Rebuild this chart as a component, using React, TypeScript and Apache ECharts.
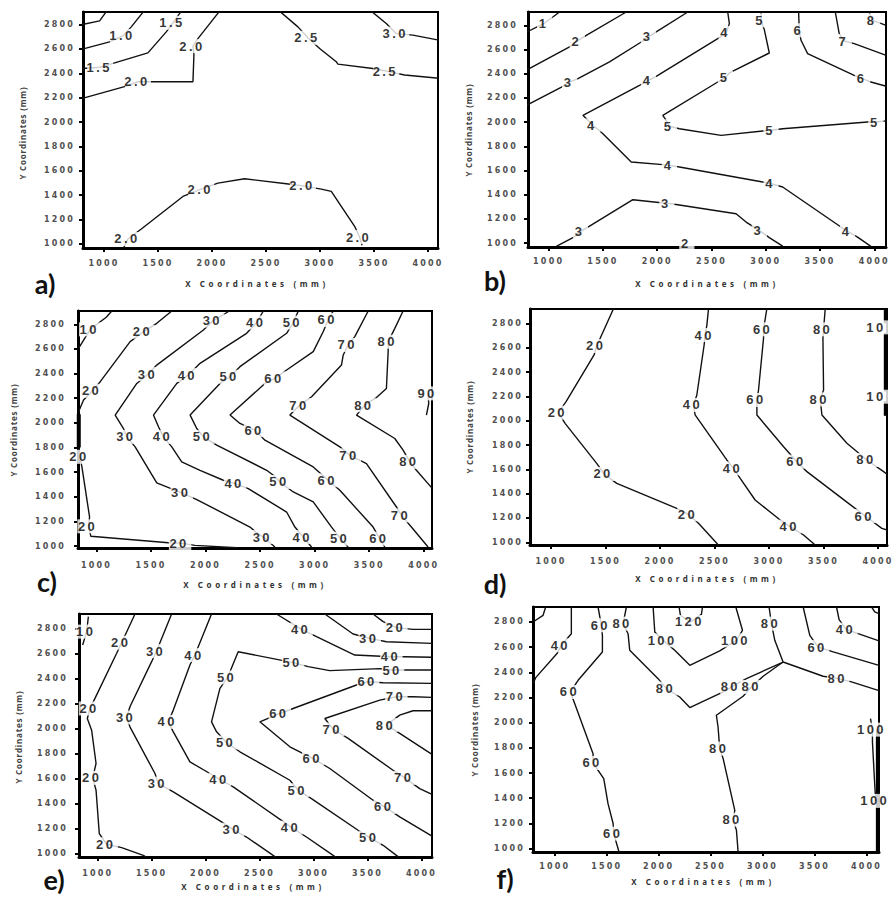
import React, { useEffect, useRef } from 'react';
import * as echarts from 'echarts';

type P = [number, number];
type L = [number, number, string];

const xTickValues = [1000, 1500, 2000, 2500, 3000, 3500, 4000];
const yTickValues = [1000, 1200, 1400, 1600, 1800, 2000, 2200, 2400, 2600, 2800];
const panelLetters = ['a)', 'b)', 'c)', 'd)', 'e)', 'f)'];
const xTitle = 'X Coordinates (mm)';
const yTitle = 'Y Coordinates (mm)';

// ---------- panel a ----------
const aLines: P[][] = [
  [[800, 2800], [960, 2830], [1025, 2910]],
  [[800, 2598], [1052, 2658], [1176, 2707], [1253, 2781], [1370, 2910]],
  [[800, 2440], [965, 2450], [1099, 2486], [1407, 2568], [1577, 2740], [1639, 2814], [1716, 2910]],
  [[800, 2195], [1207, 2295], [1315, 2331], [1484, 2331], [1824, 2331], [1833, 2549], [1824, 2623], [1870, 2685], [2071, 2910]],
  [[2626, 2910], [2796, 2781], [2889, 2691], [2997, 2604], [3151, 2495], [3166, 2475], [3490, 2440], [3614, 2418], [3784, 2386], [4100, 2360]],
  [[3475, 2910], [3614, 2808], [3706, 2726], [3861, 2713], [4100, 2672]],
  [[1180, 965], [1222, 1041], [1346, 1123], [1731, 1390], [1901, 1450], [2055, 1499], [2302, 1535], [2688, 1494], [2842, 1477], [3012, 1450], [3105, 1431], [3321, 1145], [3367, 1057], [3390, 990]],
];
const aLabels: L[] = [
  [1176, 2707, '1.0'], [965, 2450, '1.5'], [1639, 2814, '1.5'], [1315, 2331, '2.0'], [1824, 2623, '2.0'],
  [2889, 2691, '2.5'], [3614, 2418, '2.5'], [3706, 2726, '3.0'], [1222, 1041, '2.0'], [1901, 1450, '2.0'],
  [2842, 1477, '2.0'], [3367, 1057, '2.0'],
];

// ---------- panel b ----------
const bLines: P[][] = [
  [[800, 2745], [963, 2819], [1101, 2910]],
  [[800, 2432], [1193, 2621], [1264, 2670], [1347, 2717], [1715, 2910]],
  [[800, 2140], [1132, 2295], [1193, 2331], [1270, 2359], [1561, 2497], [1868, 2670], [1920, 2704], [1991, 2745], [2282, 2910]],
  [[2650, 2910], [2665, 2814], [2635, 2737], [2573, 2698], [1991, 2378], [1920, 2345], [1837, 2304], [1316, 2056], [1408, 1973], [1500, 1904], [1761, 1670], [2052, 1648], [2113, 1642], [2205, 1628], [2972, 1504], [3049, 1490], [3156, 1463], [3693, 1132], [3754, 1096], [3846, 1049], [3969, 972]],
  [[2957, 2910], [2957, 2841], [2987, 2764], [3033, 2571], [2665, 2406], [2629, 2367], [2543, 2323], [2052, 2056], [2075, 2025], [2113, 1965], [2205, 1945], [2589, 1890], [2972, 1926], [3049, 1932], [3156, 1945], [3938, 2000], [4015, 2000], [4110, 2010]],
  [[3303, 2910], [3309, 2759], [3325, 2676], [3386, 2566], [3815, 2386], [3892, 2359], [3969, 2331], [4110, 2296]],
  [[3641, 2910], [3677, 2731], [3723, 2670], [3815, 2648], [4110, 2552]],
  [[3950, 2910], [3984, 2841], [4110, 2800]],
  [[1071, 972], [1224, 1044], [1294, 1096], [1362, 1132], [1776, 1358], [2037, 1333], [2089, 1330], [2159, 1320], [2727, 1242], [2819, 1173], [2941, 1104], [3033, 1044], [3156, 975]],
];
const bLabels: L[] = [
  [963, 2819, '1'], [1264, 2670, '2'], [1193, 2331, '3'], [1920, 2704, '3'], [2635, 2737, '4'], [1920, 2345, '4'],
  [1408, 1973, '4'], [2113, 1642, '4'], [3049, 1490, '4'], [3754, 1096, '4'], [2957, 2841, '5'], [2629, 2367, '5'],
  [2113, 1965, '5'], [3049, 1932, '5'], [4015, 2000, '5'], [3309, 2759, '6'], [3892, 2359, '6'], [3723, 2670, '7'],
  [3984, 2841, '8'], [1294, 1096, '3'], [2089, 1330, '3'], [2941, 1104, '3'], [2273, 1000, '2'],
];

// ---------- panel c ----------
const cLines: P[][] = [
  [[835, 2605], [942, 2759], [1089, 2857], [1140, 2908]],
  [[835, 2090], [881, 2185], [963, 2260], [1034, 2334], [1308, 2659], [1430, 2740], [1552, 2808], [1690, 2908]],
  [[2218, 2908], [2071, 2830], [1980, 2754], [1552, 2469], [1476, 2396], [1369, 2320], [1171, 2063], [1247, 1954], [1278, 1886], [1354, 1805], [1552, 1512], [1644, 1480], [1781, 1431], [1919, 1377], [2407, 1154], [2459, 1114], [2529, 1073], [2636, 992]],
  [[2529, 2908], [2468, 2814], [2376, 2727], [1949, 2483], [1842, 2388], [1736, 2320], [1522, 2063], [1568, 1968], [1613, 1886], [1690, 1805], [1781, 1683], [1949, 1615], [2163, 1534], [2270, 1507], [2392, 1466], [2743, 1276], [2819, 1154], [2895, 1073], [2972, 992]],
  [[2850, 2908], [2804, 2814], [2743, 2727], [2315, 2456], [2224, 2374], [2132, 2320], [1858, 2063], [1919, 1954], [1980, 1886], [2102, 1819], [2560, 1615], [2621, 1575], [2682, 1520], [2804, 1439], [2987, 1358], [3155, 1154], [3237, 1060], [3307, 992]],
  [[3170, 2908], [3124, 2835], [3078, 2740], [2987, 2578], [2743, 2429], [2636, 2361], [2544, 2320], [2224, 2063], [2315, 1995], [2453, 1941], [2544, 1859], [2987, 1642], [3124, 1534], [3231, 1453], [3536, 1154], [3597, 1060], [3643, 992]],
  [[3491, 2908], [3368, 2700], [3307, 2632], [3262, 2551], [3246, 2469], [2972, 2212], [2865, 2144], [2773, 2063], [3231, 1805], [3323, 1737], [3475, 1669], [3750, 1317], [3796, 1249], [3887, 1154], [4040, 992]],
  [[3811, 2908], [3735, 2767], [3674, 2659], [3674, 2578], [3658, 2279], [3567, 2206], [3460, 2144], [3384, 2063], [3735, 1873], [3811, 1778], [3872, 1683], [3933, 1615], [4076, 1470]],
  [[4040, 2239], [4046, 2157], [4025, 2063]],
  [[835, 1810], [848, 1724], [866, 1642], [936, 1236], [927, 1160], [948, 1079], [1659, 1027], [1766, 1024], [1903, 1005], [2285, 986]],
];
const cThick: P[][] = [[[837, 2070], [837, 1800]]];
const cLabels: L[] = [
  [942, 2759, '10'], [963, 2260, '20'], [1430, 2740, '20'], [2071, 2830, '30'], [1476, 2396, '30'], [1278, 1886, '30'],
  [1781, 1431, '30'], [2529, 1073, '30'], [2468, 2814, '40'], [1842, 2388, '40'], [1613, 1886, '40'], [2270, 1507, '40'],
  [2895, 1073, '40'], [2804, 2814, '50'], [2224, 2374, '50'], [1980, 1886, '50'], [2682, 1520, '50'], [3237, 1060, '50'],
  [3124, 2835, '60'], [2636, 2361, '60'], [2453, 1941, '60'], [3124, 1534, '60'], [3597, 1060, '60'], [3307, 2632, '70'],
  [2865, 2144, '70'], [3323, 1737, '70'], [3796, 1249, '70'], [3674, 2659, '80'], [3460, 2144, '80'], [3872, 1683, '80'],
  [4040, 2239, '90'], [848, 1724, '20'], [927, 1160, '20'], [1766, 1024, '20'],
];

// ---------- panel d ----------
const dLines: P[][] = [
  [[1572, 2918], [1419, 2614], [1395, 2540], [1138, 2156], [1067, 2066], [1129, 1978], [1419, 1649], [1487, 1562], [1603, 1485], [2154, 1279], [2261, 1230], [2353, 1156], [2521, 992], [2540, 970]],
  [[2445, 2918], [2430, 2786], [2414, 2704], [2405, 2622], [2338, 2211], [2307, 2129], [2322, 2047], [2613, 1677], [2674, 1608], [2736, 1526], [2873, 1348], [3103, 1183], [3195, 1129], [3317, 1060], [3424, 978]],
  [[2980, 2918], [2950, 2751], [2950, 2677], [2904, 2252], [2889, 2170], [2889, 2047], [3134, 1786], [3256, 1663], [3348, 1581], [3730, 1320], [3883, 1216], [4036, 1115], [4083, 1101]],
  [[3516, 2918], [3501, 2751], [3495, 2677], [3501, 2252], [3470, 2175], [3486, 2047], [3715, 1814], [3899, 1677], [4052, 1581], [4083, 1560]],
];
const dThick: P[][] = [
  [[4072, 2918], [4072, 2800]],
  [[4072, 2720], [4072, 2240]],
  [[4072, 2160], [4072, 2040]],
];
const dLabels: L[] = [
  [1419, 2614, '20'], [1067, 2066, '20'], [1487, 1562, '20'], [2261, 1230, '20'], [2414, 2704, '40'], [2307, 2129, '40'],
  [2674, 1608, '40'], [3195, 1129, '40'], [2950, 2751, '60'], [2889, 2170, '60'], [3256, 1663, '60'], [3883, 1216, '60'],
  [3501, 2751, '80'], [3470, 2175, '80'], [3899, 1677, '80'], [3991, 2767, '10'], [3991, 2197, '10'],
];

// ---------- panel e ----------
const eLines: P[][] = [
  [[914, 2899], [898, 2779], [861, 2672]],
  [[1346, 2920], [1222, 2690], [1176, 2605], [975, 2244], [929, 2163], [904, 2083], [944, 1989], [985, 1722], [954, 1607], [985, 1508], [1015, 1160], [1083, 1075], [1222, 1048], [1423, 986], [1450, 973]],
  [[1685, 2920], [1546, 2623], [1500, 2538], [1299, 2177], [1268, 2091], [1299, 2016], [1531, 1642], [1562, 1561], [1701, 1495], [2148, 1254], [2256, 1192], [2379, 1133], [2626, 986], [2650, 973]],
  [[2055, 2920], [1901, 2591], [1855, 2511], [1701, 2150], [1654, 2056], [1701, 1976], [1855, 1735], [2040, 1642], [2133, 1594], [2256, 1535], [2703, 1267], [2796, 1208], [2935, 1133], [3182, 986], [3205, 973]],
  [[3552, 2920], [3645, 2859], [3768, 2811], [3922, 2797], [4098, 2797]],
  [[3105, 2920], [3367, 2760], [3521, 2725], [3676, 2698], [4098, 2685]],
  [[2657, 2920], [2889, 2797], [3028, 2738], [3382, 2591], [3722, 2578], [3845, 2578], [4098, 2573]],
  [[4098, 2471], [3938, 2471], [3737, 2471], [3614, 2482], [3151, 2466], [2950, 2498], [2811, 2530], [2719, 2546], [2302, 2618], [2204, 2412], [2133, 2324], [2055, 2056], [2102, 1976], [2194, 1890], [2318, 1816], [2781, 1588], [2858, 1508], [2981, 1441], [3413, 1187], [3521, 1128], [3645, 1067], [3768, 986], [3790, 973]],
  [[4098, 2364], [3645, 2369], [3506, 2377], [3398, 2351], [2811, 2163], [2688, 2123], [2503, 2056], [2781, 1856], [2997, 1762], [3151, 1682], [3552, 1428], [3660, 1374], [3799, 1294], [4098, 1140]],
  [[4098, 2252], [3922, 2257], [3768, 2257], [3614, 2230], [3105, 2083], [3182, 1995], [3321, 1923], [3737, 1668], [3845, 1607], [3984, 1521], [4098, 1475]],
  [[4098, 2145], [3922, 2145], [3799, 2110], [3676, 2030], [3799, 1963], [4098, 1795]],
];
const eLabels: L[] = [
  [898, 2779, '10'], [1222, 2690, '20'], [929, 2163, '20'], [954, 1607, '20'], [1083, 1075, '20'], [1546, 2623, '30'],
  [1268, 2091, '30'], [1562, 1561, '30'], [2256, 1192, '30'], [1901, 2591, '40'], [1654, 2056, '40'], [2133, 1594, '40'],
  [2796, 1208, '40'], [3768, 2811, '20'], [3521, 2725, '30'], [2889, 2797, '40'], [3722, 2578, '40'], [3737, 2471, '50'],
  [2811, 2530, '50'], [2204, 2412, '50'], [2194, 1890, '50'], [2858, 1508, '50'], [3521, 1128, '50'], [3506, 2377, '60'],
  [2688, 2123, '60'], [2997, 1762, '60'], [3660, 1374, '60'], [3768, 2257, '70'], [3182, 1995, '70'], [3845, 1607, '70'],
  [3676, 2030, '80'],
];

// ---------- panel f ----------
const fLines: P[][] = [
  [[791, 2800], [888, 2853], [913, 2919]],
  [[791, 2310], [817, 2358], [1022, 2549], [1064, 2615], [1160, 2707], [1160, 2919]],
  [[1417, 2919], [1449, 2774], [1459, 2694], [1459, 2562], [1225, 2337], [1151, 2244], [1193, 2151], [1369, 1754], [1369, 1680], [1472, 1556], [1513, 1357], [1562, 1199], [1568, 1119], [1619, 973]],
  [[1690, 2919], [1658, 2787], [1706, 2707], [1722, 2575], [1995, 2350], [2075, 2271], [2203, 2204], [2300, 2120], [2653, 2257], [2700, 2285], [2845, 2350], [3198, 2482]],
  [[3198, 2482], [3006, 2369], [2893, 2284], [2813, 2210], [2556, 2059], [2572, 1966], [2588, 1794], [2621, 1715], [2733, 1304], [2717, 1230], [2749, 1146], [2765, 973]],
  [[3198, 2482], [3583, 2369], [3728, 2350], [3856, 2324], [4121, 2255]],
  [[3198, 2482], [3118, 2654], [3086, 2787], [3063, 2919]],
  [[1947, 2919], [1963, 2721], [2043, 2654], [2155, 2575], [2300, 2456], [2588, 2570], [2749, 2654], [2807, 2734], [2743, 2919]],
  [[2197, 2919], [2210, 2853], [2306, 2800], [2412, 2861], [2422, 2919]],
  [[3391, 2919], [3455, 2694], [3535, 2601], [3680, 2562], [4121, 2455]],
  [[3712, 2919], [3737, 2819], [3808, 2739], [3920, 2707], [4121, 2650]],
  [[4050, 2919], [4080, 2880], [4121, 2866]],
  [[4039, 2032], [4058, 1945], [4058, 1847], [4081, 1490], [4090, 1379]],
];
const fThick: P[][] = [[[4110, 1945], [4110, 973]]];
const fLabels: L[] = [
  [1064, 2615, '40'], [1449, 2774, '60'], [1151, 2244, '60'], [1369, 1680, '60'], [1568, 1119, '60'], [1658, 2787, '80'],
  [2075, 2271, '80'], [2700, 2285, '80'], [2900, 2284, '80'], [2588, 1794, '80'], [2717, 1230, '80'], [3728, 2350, '80'],
  [3086, 2787, '80'], [2043, 2654, '100'], [2749, 2654, '100'], [2306, 2800, '120'], [3535, 2601, '60'], [3808, 2739, '40'],
  [4058, 1945, '100'], [4090, 1379, '100'],
];

const panelLines = [aLines, bLines, cLines, dLines, eLines, fLines];
const panelThick: P[][][] = [[], [], cThick, dThick, [], fThick];
const panelLabels = [aLabels, bLabels, cLabels, dLabels, eLabels, fLabels];

// layout (pixels) and axis extents per panel
const layout = [
  { grid: { left: 83, top: 12, width: 355, height: 236 }, x: [806, 4093], y: [967, 2903], letter: [45, 283], xt: [257, 283], yt: [22, 133], ym: 8, xm: 11 },
  { grid: { left: 528, top: 12, width: 358, height: 235 }, x: [810, 4108], y: [967, 2910], letter: [495, 280], xt: [707, 283], yt: [468, 130], ym: 10, xm: 10 },
  { grid: { left: 78, top: 311, width: 354, height: 237 }, x: [830, 4076], y: [984, 2908], letter: [47, 581], xt: [255, 584], yt: [13, 430], ym: 12, xm: 13 },
  { grid: { left: 530, top: 309, width: 357, height: 236 }, x: [807, 4083], y: [978, 2918], letter: [495, 583], xt: [707, 578], yt: [469, 427], ym: 7, xm: 12 },
  { grid: { left: 79, top: 614, width: 353, height: 243 }, x: [827, 4098], y: [973, 2920], letter: [54, 879], xt: [253, 886], yt: [18, 737], ym: 11, xm: 12 },
  { grid: { left: 533, top: 607, width: 346, height: 245 }, x: [791, 4121], y: [973, 2919], letter: [505, 878], xt: [703, 881], yt: [474, 730], ym: 8, xm: 10 },
];

const css = `
text[style*="Liberation"]{letter-spacing:2.4px}
text[style*="DejaVu"]{letter-spacing:2.2px}
text[style*="Noto Sans"]{letter-spacing:3.6px}
text[style*="Open Sans"]{letter-spacing:0.8px}
`;

function buildOption() {
  const grid: any[] = [];
  const xAxis: any[] = [];
  const yAxis: any[] = [];
  const series: any[] = [];
  const graphic: any[] = [];
  const tickLabel = {
    fontFamily: 'DejaVu Sans', fontWeight: 'bold', fontSize: 8, color: '#505050',
    formatter: (v: number) => String(v),
  };

  layout.forEach((p, i) => {
    grid.push({ ...p.grid, show: true, borderColor: '#000', borderWidth: 2, containLabel: false });
    xAxis.push({
      type: 'value', gridIndex: i, min: p.x[0], max: p.x[1],
      splitLine: { show: false },
      axisLine: { show: true, onZero: false, lineStyle: { color: '#000', width: 3 } },
      axisTick: { show: true, customValues: xTickValues, length: 4, inside: false, lineStyle: { color: '#000', width: 2 } },
      axisLabel: { customValues: xTickValues, margin: p.xm, ...tickLabel, showMinLabel: true, showMaxLabel: true },
    });
    yAxis.push({
      type: 'value', gridIndex: i, min: p.y[0], max: p.y[1],
      splitLine: { show: false },
      axisLine: { show: true, onZero: false, lineStyle: { color: '#000', width: 3 } },
      axisTick: { show: true, customValues: yTickValues, length: 4, inside: false, lineStyle: { color: '#000', width: 2 } },
      axisLabel: { customValues: yTickValues, margin: p.ym, ...tickLabel, showMinLabel: true, showMaxLabel: true },
    });
    panelLines[i].forEach((pts) => {
      series.push({
        type: 'line', xAxisIndex: i, yAxisIndex: i, data: pts, symbol: 'none', showSymbol: false,
        lineStyle: { color: '#111', width: 1.4 }, silent: true, z: 2, emphasis: { disabled: true },
      });
    });
    panelThick[i].forEach((pts) => {
      series.push({
        type: 'line', xAxisIndex: i, yAxisIndex: i, data: pts, symbol: 'none', showSymbol: false,
        lineStyle: { color: '#000', width: 4 }, silent: true, z: 3, emphasis: { disabled: true },
      });
    });
    series.push({
      type: 'scatter', xAxisIndex: i, yAxisIndex: i, symbolSize: 1, silent: true, z: 6,
      itemStyle: { color: 'rgba(0,0,0,0)' }, emphasis: { disabled: true }, clip: false,
      data: panelLabels[i].map((l) => ({ value: [l[0], l[1]], name: l[2] })),
      label: {
        show: true, position: 'inside', formatter: '{b}', color: '#000',
        fontFamily: 'Liberation Sans', fontWeight: 'bold', fontSize: 13,
        backgroundColor: '#fff', padding: [1, 5, 0, 3],
      },
    });
    graphic.push({
      type: 'text', x: p.letter[0], y: p.letter[1], silent: true, z: 10,
      style: { text: panelLetters[i], fontFamily: 'Lato', fontWeight: 'bold', fontSize: 27, fill: '#111', align: 'center', verticalAlign: 'middle', textAlign: 'center', textVerticalAlign: 'middle' },
    });
    graphic.push({
      type: 'text', x: p.xt[0], y: p.xt[1], silent: true, z: 10,
      style: { text: xTitle, fontFamily: 'Noto Sans', fontWeight: 'bold', fontSize: 8, fill: '#333', align: 'center', verticalAlign: 'middle', textAlign: 'center', textVerticalAlign: 'middle' },
    });
    graphic.push({
      type: 'text', x: p.yt[0], y: p.yt[1], rotation: Math.PI / 2, silent: true, z: 10,
      style: { text: yTitle, fontFamily: 'Open Sans', fontWeight: 'bold', fontSize: 8, fill: '#444', align: 'center', verticalAlign: 'middle', textAlign: 'center', textVerticalAlign: 'middle' },
    });
  });

  return { animation: false, backgroundColor: '#fff', grid, xAxis, yAxis, series, graphic };
}

export default function App() {
  const ref = useRef<HTMLDivElement>(null);
  useEffect(() => {
    if (!ref.current) return;
    const chart = echarts.init(ref.current, undefined, { renderer: 'svg' });
    chart.setOption(buildOption() as any);
    return () => chart.dispose();
  }, []);
  return (
    <>
      <style>{css}</style>
      <div ref={ref} style={{ position: 'absolute', left: 0, top: 0, width: 893, height: 897, background: '#fff' }} />
    </>
  );
}
